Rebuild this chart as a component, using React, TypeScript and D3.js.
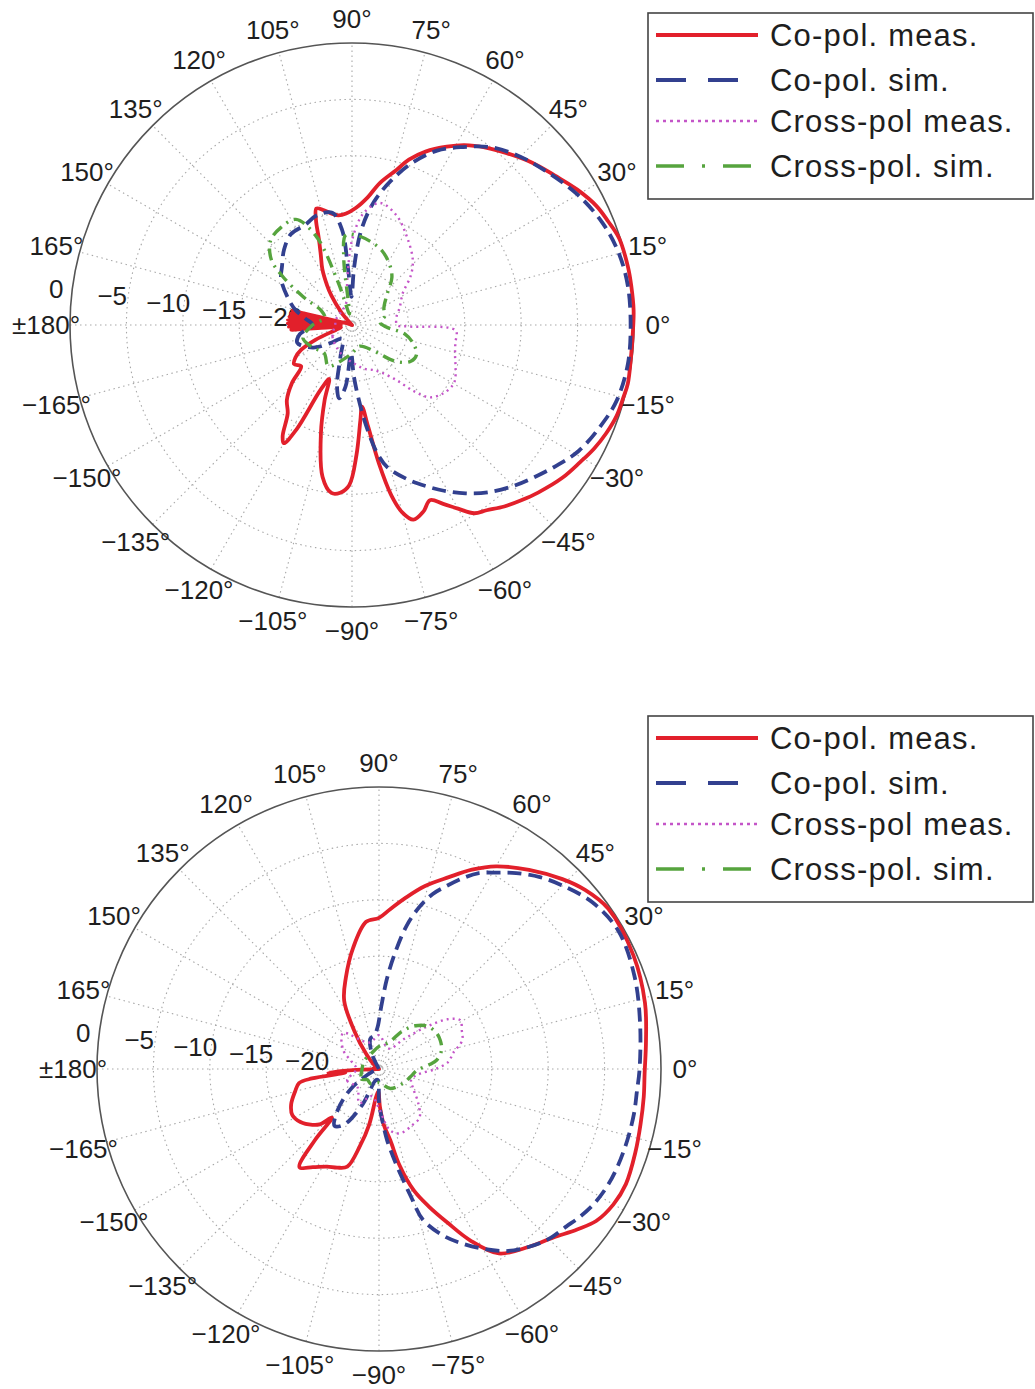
import React from 'react';
import * as d3 from 'd3';

// ---------- radial axis ----------
const DB_MIN = -25;
const DB_MAX = 0;
const ringLevels = [-20, -15, -10, -5];
const ringLabelValues = [0, -5, -10, -15, -20];
const angleTickValues = d3.range(0, 360, 15);
const seriesNames = ['Co-pol. meas.', 'Co-pol. sim.', 'Cross-pol meas.', 'Cross-pol. sim.'];

// ---------- upper panel: [angle (deg), level (dB)] ----------
const upperCoMeas: [number, number][] = [
  [-180, -24], [-178.5, -19.4], [-177, -24], [-175.5, -19.6], [-174, -23], [-172, -23.5], [-168, -24],
  [-163, -23.5], [-158, -21.5], [-154, -20], [-150, -19.2], [-146, -18.8], [-141, -19.2],
  [-136, -17.6], [-131, -16.2], [-126, -15.3], [-122, -13.4], [-120, -12.9], [-118, -14.5],
  [-116, -18.5], [-113, -19.8], [-110, -17.9], [-106, -15], [-101, -11.3], [-97, -10],
  [-94, -10.1], [-91, -10.8], [-88, -13.5], [-85, -16.5], [-83, -17.7], [-81, -15.9],
  [-79, -12.5], [-77, -9.5], [-75, -7.8], [-72.5, -6.9], [-69, -7.3], [-66, -8.0],
  [-63, -7.2], [-60, -6.2], [-57, -5.1], [-54, -4.7], [-50, -4.0], [-46, -3.4],
  [-42, -2.8], [-36, -1.95], [-31, -1.4], [-27, -0.9], [-23, -0.5], [-19, -0.2],
  [-15, -0.1], [-12, 0], [-7, -0.1], [-2, -0.1], [3, 0], [8, 0], [12, 0], [18, -0.1],
  [22, -0.5], [26, -0.9], [31, -1.7], [36, -2.6], [42, -3.5], [48, -4.5], [53, -5.3],
  [58, -6.2], [62, -7.1], [67, -8.3], [71, -9.5], [74, -10.7], [79, -12.2], [83, -13.6],
  [88, -14.6], [93, -15.1], [97, -15.2], [100, -15.0], [104, -14.5], [107, -14.2],
  [109, -15.2], [111, -16.8], [114, -18.2], [118, -19.4], [122, -20.8], [125, -21.8],
  [130, -23.5], [140, -25], [155, -25], [162, -24.5], [165, -24], [166.5, -19.6],
  [168, -24], [169.5, -19.5], [171, -24], [172.5, -19.4], [174, -24], [175.5, -19.3],
  [177, -24], [178.5, -19.3],
];
const upperCoSim: [number, number][] = [
  [-180, -21.5], [-170, -20.3], [-162, -19.9], [-150, -21], [-140, -22.5], [-125, -23.5],
  [-110, -22], [-104, -19.5], [-100, -18.4], [-96, -19.5], [-92, -22.5], [-88, -20.5],
  [-85, -18.5], [-82, -16], [-79, -13.5], [-76, -12], [-70, -10.4], [-65, -9.2],
  [-61, -8.2], [-56, -7], [-51, -5.9], [-45, -4.8], [-39, -3.8], [-34, -2.9], [-29, -2],
  [-22, -1.2], [-16, -0.6], [-8, -0.3], [0, -0.3], [8, -0.3], [15, -0.5], [22, -1.0],
  [30, -1.9], [38, -3.0], [45, -3.9], [52, -5.0], [58, -6.4], [64, -7.8], [70, -9.8],
  [75, -11.8], [79, -13.5], [82, -15], [85, -17], [88, -20], [91, -22.5], [94, -20],
  [96, -16.5], [100, -14.9], [108, -14.8], [115, -15.2], [124, -15.3], [132, -16],
  [140, -16.9], [147, -17.5], [156, -18.7], [165, -19.8], [172, -20.8],
];
const upperCrossMeas: [number, number][] = [
  [-180, -23.5], [-150, -23], [-120, -22.5], [-100, -22], [-85, -21.5], [-75, -21],
  [-65, -20.6], [-58, -20], [-51, -18.7], [-47, -17], [-43, -15.6], [-37, -14.9],
  [-31, -14.6], [-28, -14.65], [-22, -15.1], [-16, -15.5], [-10, -15.7], [-3, -15.8],
  [-1.5, -20], [0, -21], [10, -21], [20, -20.5], [32, -19.7], [40, -18.2], [47, -17.1],
  [58, -15.8], [68, -14.5], [77, -13.9], [84, -15], [90, -17.5], [96, -21], [105, -23],
  [130, -23.5], [160, -23.5],
];
const upperCrossSim: [number, number][] = [
  [-180, -21.5], [-165, -20.5], [-150, -21], [-135, -21.5], [-120, -20.8], [-105, -21.8],
  [-90, -22.5], [-70, -23], [-50, -22], [-40, -20], [-32, -18.9], [-25, -18.7],
  [-18, -19.2], [-10, -20.2], [-3, -22], [5, -22.5], [15, -22], [28, -21.8], [40, -21],
  [50, -19.5], [58, -18.7], [68, -17.9], [78, -17.4], [88, -17], [94, -17], [97, -19],
  [99, -23], [103, -24], [108, -21], [112, -16.5], [118, -14.4], [126, -14.3],
  [134, -14.6], [141, -15.8], [145, -17.5], [150, -20], [155, -22], [165, -22.5],
];

// ---------- lower panel: [angle (deg), level (dB)] ----------
const lowerCoMeas: [number, number][] = [
  [-180, -25], [-178, -23], [-176, -20.5], [-174, -22], [-172, -19], [-170, -17.8],
  [-165, -17.3], [-158, -16.6], [-152, -16.3], [-146, -16.6], [-140, -17.3],
  [-137, -17.8], [-134, -19], [-132, -16.5], [-129, -13.8], [-124, -14.5], [-118, -15.2],
  [-113, -15.5], [-108, -15.9], [-104, -17.9], [-100, -20], [-96, -22.5], [-92, -23],
  [-88.5, -21.6], [-85, -20], [-81, -18.6], [-78, -16.3], [-74, -13.8], [-70, -12],
  [-66, -10.1], [-62, -7.8], [-57, -5.5], [-50, -4.4], [-44, -3.5], [-39, -2.4],
  [-35, -1.5], [-30, -1.0], [-25, -0.85], [-18, -1.1], [-12, -1.3], [-6, -1.4],
  [-1, -1.45], [6, -1.2], [14, -0.7], [24, -0.3], [35, -0.2], [41, -0.8], [46, -1.6],
  [53, -2.9], [60, -4.25], [65, -5.5], [70, -6.9], [76, -8.3], [81, -9.6], [86, -10.8],
  [90, -11.6], [95, -11.9], [102, -14], [110, -16.4], [117, -18.2], [123, -21],
  [130, -23.2], [140, -24.5], [155, -25], [168, -25], [175, -24.5],
];
const lowerCoSim: [number, number][] = [
  [-180, -25], [-160, -24.5], [-145, -22], [-135, -19.8], [-128, -18.6], [-122, -19.2],
  [-115, -21.5], [-105, -24], [-95, -24], [-90, -22], [-86.5, -20.5], [-83.6, -18.7],
  [-81, -17.2], [-78.6, -15.6], [-76, -13.4], [-73.8, -11.1], [-69, -9.2], [-65, -8],
  [-60, -6.6], [-55, -5.3], [-50, -4.4], [-45, -3.7], [-40, -3.3], [-36.4, -2.9],
  [-32, -2.5], [-27, -2.25], [-22, -2.15], [-16, -2.1], [-10, -2.05], [-5, -2.05],
  [0, -1.9], [10, -1.5], [20, -0.9], [30, -0.5], [38, -1.0], [45, -2.0], [50, -2.8],
  [55, -3.8], [59, -4.7], [63, -5.5], [66.5, -6.6], [70, -7.8], [73, -8.8], [76, -10.2],
  [79, -12], [82, -14.5], [85, -17], [88, -19.5], [92, -21.3], [98, -22], [106, -22.2],
  [115, -23.5], [130, -25],
];
const lowerCrossMeas: [number, number][] = [
  [-180, -23], [-160, -22], [-140, -22.5], [-120, -21.5], [-105, -22.5], [-90, -21.5],
  [-80, -19.5], [-72, -19], [-60, -19.2], [-50, -19.4], [-40, -20.5], [-30, -21.5],
  [-18, -22], [-8, -21.5], [0, -20], [6, -18.8], [12, -18.3], [19, -17.2], [25, -16.9],
  [31, -16.6], [36, -17.5], [42, -19.5], [50, -21.5], [65, -23], [90, -22], [110, -22.5],
  [135, -20.5], [152, -21.4], [165, -22.5],
];
const lowerCrossSim: [number, number][] = [
  [-180, -23.5], [-150, -23.2], [-137, -23.6], [-120, -23.5], [-90, -23.8], [-60, -23],
  [-30, -22.5], [-10, -22], [-1.5, -21.6], [5, -20.5], [9, -19.8], [17, -19.2],
  [25.4, -19], [33, -19], [42, -19.3], [50, -20], [58, -21], [70, -22.5], [90, -23],
  [120, -23.5], [150, -23.5],
];

const FONT = "'Liberation Sans', Arial, Helvetica, sans-serif";
const TEXT = '#1e1e1e';

type Style = { color: string; width: number; dash: string | null; legendDash: string | null };
const styles: Style[] = [
  { color: '#e2202b', width: 3.8, dash: null, legendDash: null },
  { color: '#32408f', width: 3.8, dash: '14,7', legendDash: '30,22' },
  { color: '#c455c8', width: 2.4, dash: '2,4', legendDash: '3,4' },
  { color: '#56a43e', width: 3.4, dash: '12,6,2,6', legendDash: '28,18,3,18' },
];

function Panel({ cx, cy, radius, series, legendTop }: {
  cx: number; cy: number; radius: number; series: [number, number][][]; legendTop: number;
}) {
  const rScale = d3.scaleLinear().domain([DB_MIN, DB_MAX]).range([0, radius]).clamp(true);
  const toRad = (deg: number) => (deg * Math.PI) / 180;
  const line = d3
    .lineRadial<[number, number]>()
    .angle((d) => Math.PI / 2 - toRad(d[0]))
    .radius((d) => rScale(d[1]))
    .curve(d3.curveCatmullRomClosed.alpha(0.5));

  const labelR = radius * 1.085;
  const angLabel = (a: number) => (a === 180 ? '±180°' : a < 180 ? `${a}°` : `−${360 - a}°`);
  const rLabelAngle = toRad(173);

  const legendLeft = 648;
  const legendW = 385;
  const legendH = 186;
  const rowY = [22, 67, 108, 153];

  return (
    <g>
      <g transform={`translate(${cx},${cy})`}>
        {/* spokes every 15 degrees */}
        {d3.range(0, 180, 15).map((a) => (
          <line
            key={`s${a}`}
            x1={-radius * Math.cos(toRad(a))}
            y1={radius * Math.sin(toRad(a))}
            x2={radius * Math.cos(toRad(a))}
            y2={-radius * Math.sin(toRad(a))}
            stroke="#a8a8a8"
            strokeWidth={1.1}
            strokeDasharray="1.5,3.5"
          />
        ))}
        {/* dotted rings */}
        {ringLevels.map((v) => (
          <circle key={`r${v}`} r={rScale(v)} fill="none" stroke="#a8a8a8" strokeWidth={1.1} strokeDasharray="1.5,3.5" />
        ))}
        <circle r={rScale(DB_MAX)} fill="none" stroke="#555" strokeWidth={1.6} />
        {/* angle labels */}
        {angleTickValues.map((a) => (
          <text
            key={`a${a}`}
            x={labelR * Math.cos(toRad(a))}
            y={-labelR * Math.sin(toRad(a))}
            dy="0.36em"
            textAnchor="middle"
            fontFamily={FONT}
            fontSize={26}
            fill={TEXT}
          >
            {angLabel(a)}
          </text>
        ))}
        {/* radial labels */}
        {ringLabelValues.map((v) => {
          const rr = rScale(v) + 16;
          return (
            <text
              key={`rl${v}`}
              x={rr * Math.cos(rLabelAngle)}
              y={-rr * Math.sin(rLabelAngle)}
              dy="0.36em"
              textAnchor="middle"
              fontFamily={FONT}
              fontSize={26}
              fill={TEXT}
            >
              {v === 0 ? '0' : `−${-v}`}
            </text>
          );
        })}
        {/* traces */}
        {series.map((s, i) => (
          <path
            key={`p${i}`}
            d={line(s) || ''}
            fill="none"
            stroke={styles[i].color}
            strokeWidth={styles[i].width}
            strokeDasharray={styles[i].dash || undefined}
            strokeLinejoin="round"
          />
        ))}
      </g>
      {/* legend */}
      <g transform={`translate(${legendLeft},${legendTop})`}>
        <rect x={0} y={0} width={legendW} height={legendH} fill="#fff" stroke="#444" strokeWidth={1.6} />
        {seriesNames.map((name, i) => (
          <g key={name} transform={`translate(0,${rowY[i]})`}>
            <line
              x1={8}
              x2={110}
              y1={0}
              y2={0}
              stroke={styles[i].color}
              strokeWidth={styles[i].width}
              strokeDasharray={styles[i].legendDash || undefined}
            />
            <text x={122} y={0} dy="0.36em" fontFamily={FONT} fontSize={31} letterSpacing={1.2} fill={TEXT}>
              {name}
            </text>
          </g>
        ))}
      </g>
    </g>
  );
}

export default function App() {
  return (
    <svg
      width={1035}
      height={1389}
      viewBox="0 0 1035 1389"
      style={{ position: 'absolute', left: 0, top: 0, display: 'block', background: '#fff' }}
    >
      <rect width={1035} height={1389} fill="#fff" />
      <Panel
        cx={352}
        cy={325}
        radius={282}
        series={[upperCoMeas, upperCoSim, upperCrossMeas, upperCrossSim]}
        legendTop={13}
      />
      <Panel
        cx={379}
        cy={1069}
        radius={282}
        series={[lowerCoMeas, lowerCoSim, lowerCrossMeas, lowerCrossSim]}
        legendTop={716}
      />
    </svg>
  );
}
